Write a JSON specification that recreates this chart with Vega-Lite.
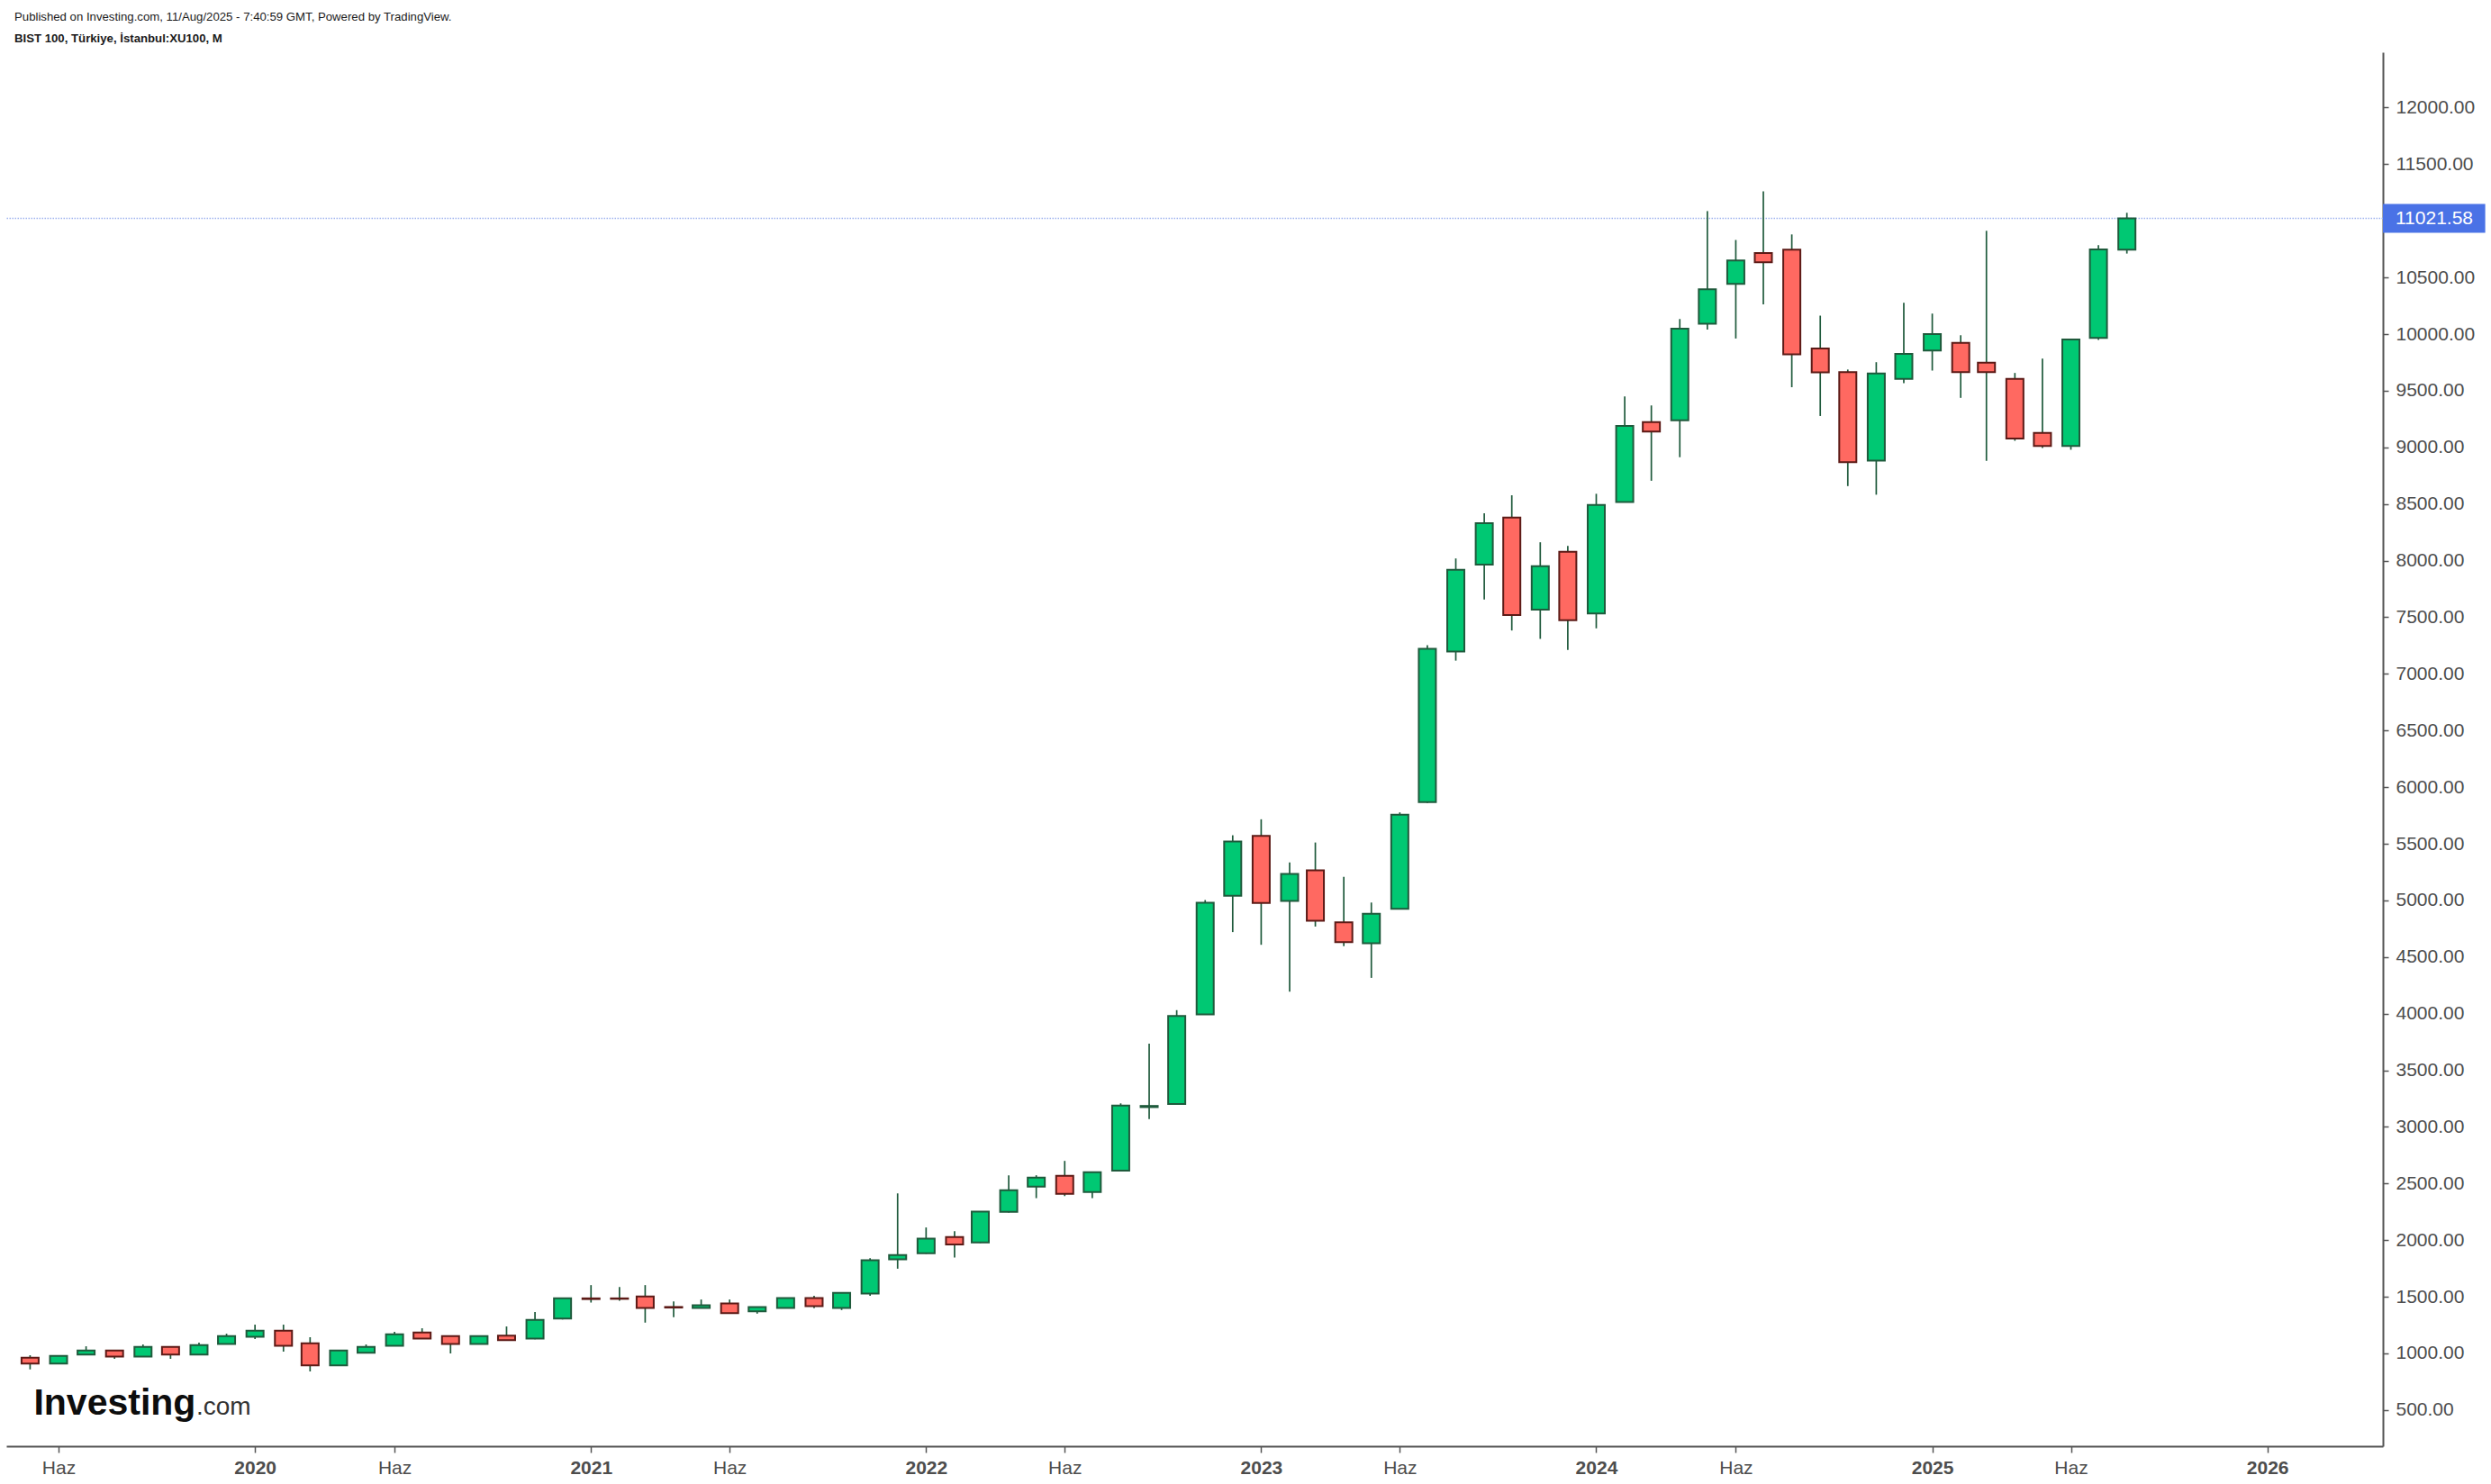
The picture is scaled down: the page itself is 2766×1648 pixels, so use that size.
{
  "$schema": "https://vega.github.io/schema/vega-lite/v6.json",
  "width": 2639,
  "height": 1548,
  "autosize": "none",
  "padding": {"left": 7, "top": 58, "right": 120, "bottom": 42},
  "background": "white",
  "config": {"view": {"stroke": null}},
  "title": {
    "text": "Published on Investing.com, 11/Aug/2025 - 7:40:59 GMT, Powered by TradingView.",
    "subtitle": "BIST 100, Türkiye, İstanbul:XU100, M",
    "anchor": "start",
    "frame": "group",
    "orient": "top",
    "offset": 8,
    "dx": 9,
    "font": "Liberation Sans",
    "fontSize": 13.2,
    "fontWeight": "normal",
    "color": "#1a1a1a",
    "subtitleFont": "Liberation Sans",
    "subtitleFontSize": 13.2,
    "subtitleFontWeight": "bold",
    "subtitleColor": "#1a1a1a",
    "subtitlePadding": 11
  },
  "datasets": {
    "candles": [
      {"date": "2019-05-01", "open": 963, "high": 984, "low": 859, "close": 910},
      {"date": "2019-06-01", "open": 910, "high": 980, "low": 905, "close": 978},
      {"date": "2019-07-01", "open": 989, "high": 1063, "low": 985, "close": 1026},
      {"date": "2019-08-01", "open": 1026, "high": 1030, "low": 952, "close": 973},
      {"date": "2019-09-01", "open": 973, "high": 1079, "low": 970, "close": 1058},
      {"date": "2019-10-01", "open": 1058, "high": 1060, "low": 952, "close": 989},
      {"date": "2019-11-01", "open": 989, "high": 1095, "low": 985, "close": 1074},
      {"date": "2019-12-01", "open": 1084, "high": 1174, "low": 1080, "close": 1153},
      {"date": "2020-01-01", "open": 1148, "high": 1254, "low": 1127, "close": 1201},
      {"date": "2020-02-01", "open": 1201, "high": 1254, "low": 1016, "close": 1068},
      {"date": "2020-03-01", "open": 1090, "high": 1143, "low": 841, "close": 894},
      {"date": "2020-04-01", "open": 894, "high": 1028, "low": 890, "close": 1026},
      {"date": "2020-05-01", "open": 1005, "high": 1079, "low": 1002, "close": 1058},
      {"date": "2020-06-01", "open": 1068, "high": 1190, "low": 1065, "close": 1169},
      {"date": "2020-07-01", "open": 1185, "high": 1222, "low": 1130, "close": 1132},
      {"date": "2020-08-01", "open": 1153, "high": 1155, "low": 1000, "close": 1084},
      {"date": "2020-09-01", "open": 1084, "high": 1155, "low": 1080, "close": 1153},
      {"date": "2020-10-01", "open": 1156, "high": 1238, "low": 1112, "close": 1117},
      {"date": "2020-11-01", "open": 1131, "high": 1365, "low": 1125, "close": 1296},
      {"date": "2020-12-01", "open": 1309, "high": 1490, "low": 1300, "close": 1486},
      {"date": "2021-01-01", "open": 1486, "high": 1603, "low": 1449, "close": 1480},
      {"date": "2021-02-01", "open": 1486, "high": 1587, "low": 1465, "close": 1482},
      {"date": "2021-03-01", "open": 1502, "high": 1603, "low": 1272, "close": 1402},
      {"date": "2021-04-01", "open": 1410, "high": 1460, "low": 1320, "close": 1405},
      {"date": "2021-05-01", "open": 1402, "high": 1476, "low": 1400, "close": 1425},
      {"date": "2021-06-01", "open": 1441, "high": 1476, "low": 1354, "close": 1356},
      {"date": "2021-07-01", "open": 1372, "high": 1410, "low": 1351, "close": 1410},
      {"date": "2021-08-01", "open": 1402, "high": 1489, "low": 1400, "close": 1489},
      {"date": "2021-09-01", "open": 1489, "high": 1508, "low": 1399, "close": 1418},
      {"date": "2021-10-01", "open": 1402, "high": 1537, "low": 1383, "close": 1535},
      {"date": "2021-11-01", "open": 1529, "high": 1841, "low": 1508, "close": 1823},
      {"date": "2021-12-01", "open": 1831, "high": 2413, "low": 1748, "close": 1868},
      {"date": "2022-01-01", "open": 1884, "high": 2112, "low": 1880, "close": 2014},
      {"date": "2022-02-01", "open": 2028, "high": 2080, "low": 1846, "close": 1962},
      {"date": "2022-03-01", "open": 1979, "high": 2255, "low": 1975, "close": 2253},
      {"date": "2022-04-01", "open": 2250, "high": 2573, "low": 2245, "close": 2441},
      {"date": "2022-05-01", "open": 2473, "high": 2573, "low": 2371, "close": 2553},
      {"date": "2022-06-01", "open": 2568, "high": 2700, "low": 2389, "close": 2409},
      {"date": "2022-07-01", "open": 2426, "high": 2602, "low": 2371, "close": 2600},
      {"date": "2022-08-01", "open": 2614, "high": 3208, "low": 2610, "close": 3188},
      {"date": "2022-09-01", "open": 3175, "high": 3734, "low": 3070, "close": 3185},
      {"date": "2022-10-01", "open": 3203, "high": 4031, "low": 3200, "close": 3979},
      {"date": "2022-11-01", "open": 3993, "high": 5003, "low": 3990, "close": 4980},
      {"date": "2022-12-01", "open": 5041, "high": 5575, "low": 4720, "close": 5520},
      {"date": "2023-01-01", "open": 5569, "high": 5716, "low": 4608, "close": 4977},
      {"date": "2023-02-01", "open": 4995, "high": 5335, "low": 4195, "close": 5234},
      {"date": "2023-03-01", "open": 5266, "high": 5511, "low": 4769, "close": 4821},
      {"date": "2023-04-01", "open": 4807, "high": 5208, "low": 4596, "close": 4631},
      {"date": "2023-05-01", "open": 4621, "high": 4981, "low": 4316, "close": 4881},
      {"date": "2023-06-01", "open": 4926, "high": 5777, "low": 4920, "close": 5757},
      {"date": "2023-07-01", "open": 5868, "high": 7253, "low": 5860, "close": 7221},
      {"date": "2023-08-01", "open": 7198, "high": 8019, "low": 7117, "close": 7919},
      {"date": "2023-09-01", "open": 7964, "high": 8418, "low": 7656, "close": 8331},
      {"date": "2023-10-01", "open": 8380, "high": 8577, "low": 7383, "close": 7519},
      {"date": "2023-11-01", "open": 7568, "high": 8162, "low": 7309, "close": 7951},
      {"date": "2023-12-01", "open": 8078, "high": 8130, "low": 7211, "close": 7474},
      {"date": "2024-01-01", "open": 7533, "high": 8590, "low": 7402, "close": 8491},
      {"date": "2024-02-01", "open": 8518, "high": 9449, "low": 8515, "close": 9189},
      {"date": "2024-03-01", "open": 9222, "high": 9370, "low": 8705, "close": 9140},
      {"date": "2024-04-01", "open": 9238, "high": 10133, "low": 8913, "close": 10048},
      {"date": "2024-05-01", "open": 10092, "high": 11086, "low": 10040, "close": 10396},
      {"date": "2024-06-01", "open": 10443, "high": 10831, "low": 9961, "close": 10651},
      {"date": "2024-07-01", "open": 10716, "high": 11261, "low": 10262, "close": 10634},
      {"date": "2024-08-01", "open": 10746, "high": 10880, "low": 9531, "close": 9821},
      {"date": "2024-09-01", "open": 9873, "high": 10163, "low": 9277, "close": 9663},
      {"date": "2024-10-01", "open": 9665, "high": 9687, "low": 8658, "close": 8869},
      {"date": "2024-11-01", "open": 8884, "high": 9752, "low": 8582, "close": 9652},
      {"date": "2024-12-01", "open": 9604, "high": 10277, "low": 9567, "close": 9826},
      {"date": "2025-01-01", "open": 9855, "high": 10181, "low": 9678, "close": 10001},
      {"date": "2025-02-01", "open": 9922, "high": 9990, "low": 9437, "close": 9665},
      {"date": "2025-03-01", "open": 9747, "high": 10912, "low": 8881, "close": 9665},
      {"date": "2025-04-01", "open": 9604, "high": 9657, "low": 9058, "close": 9077},
      {"date": "2025-05-01", "open": 9127, "high": 9784, "low": 8995, "close": 9013},
      {"date": "2025-06-01", "open": 9013, "high": 9960, "low": 8979, "close": 9953},
      {"date": "2025-07-01", "open": 9967, "high": 10785, "low": 9948, "close": 10748},
      {"date": "2025-08-01", "open": 10745, "high": 11071, "low": 10711, "close": 11021.58}
    ],
    "last": [{"price": 11021.58}]
  },
  "encoding": {
    "x": {
      "field": "date",
      "type": "temporal",
      "scale": {
        "type": "utc",
        "domain": [
          {"year": 2019, "month": 4, "date": 10, "utc": true},
          {"year": 2026, "month": 5, "date": 2, "utc": true}
        ]
      },
      "axis": {
        "orient": "bottom",
        "title": null,
        "grid": false,
        "values": [
          {"year": 2019, "month": 6, "date": 1, "utc": true},
          {"year": 2020, "month": 1, "date": 1, "utc": true},
          {"year": 2020, "month": 6, "date": 1, "utc": true},
          {"year": 2021, "month": 1, "date": 1, "utc": true},
          {"year": 2021, "month": 6, "date": 1, "utc": true},
          {"year": 2022, "month": 1, "date": 1, "utc": true},
          {"year": 2022, "month": 6, "date": 1, "utc": true},
          {"year": 2023, "month": 1, "date": 1, "utc": true},
          {"year": 2023, "month": 6, "date": 1, "utc": true},
          {"year": 2024, "month": 1, "date": 1, "utc": true},
          {"year": 2024, "month": 6, "date": 1, "utc": true},
          {"year": 2025, "month": 1, "date": 1, "utc": true},
          {"year": 2025, "month": 6, "date": 1, "utc": true},
          {"year": 2026, "month": 1, "date": 1, "utc": true}
        ],
        "labelExpr": "utcmonth(datum.value) == 0 ? utcFormat(datum.value, '%Y') : 'Haz'",
        "labelFontWeight": {"condition": {"test": "utcmonth(datum.value) == 0", "value": "bold"}, "value": "normal"},
        "labelFont": "Liberation Sans",
        "labelFontSize": 21,
        "labelColor": "#4d4d4d",
        "labelPadding": 6,
        "labelFlush": false,
        "labelOverlap": false,
        "domainColor": "#555555",
        "domainWidth": 2,
        "tickColor": "#555555",
        "tickWidth": 1.5,
        "tickSize": 7,
        "zindex": 0
      }
    }
  },
  "layer": [
    {
      "data": {"name": "last"},
      "mark": {"type": "rule", "color": "#9fb3ee", "strokeWidth": 1.5, "strokeDash": [1.5, 1.5]},
      "encoding": {"x": null, "y": {"field": "price", "type": "quantitative"}}
    },
    {
      "data": {"name": "candles"},
      "mark": {"type": "rule", "color": "#1f5a3c", "strokeWidth": 1.7},
      "encoding": {
        "y": {
          "field": "low",
          "type": "quantitative",
          "scale": {"domain": [181, 12488.7], "nice": false, "zero": false},
          "axis": {
            "orient": "right",
            "title": null,
            "grid": false,
            "values": [500, 1000, 1500, 2000, 2500, 3000, 3500, 4000, 4500, 5000, 5500, 6000, 6500, 7000, 7500, 8000, 8500, 9000, 9500, 10000, 10500, 11000, 11500, 12000],
            "format": ".2f",
            "labelFont": "Liberation Sans",
            "labelFontSize": 21,
            "labelColor": "#4d4d4d",
            "labelPadding": 8,
            "labelOverlap": false,
            "labelFlush": false,
            "domainColor": "#555555",
            "domainWidth": 2,
            "tickColor": "#555555",
            "tickWidth": 1.5,
            "tickSize": 6,
            "zindex": 0
          }
        },
        "y2": {"field": "high"}
      }
    },
    {
      "data": {"name": "candles"},
      "mark": {"type": "bar", "size": 19, "strokeWidth": 2, "orient": "vertical"},
      "encoding": {
        "y": {"field": "open", "type": "quantitative"},
        "y2": {"field": "close"},
        "fill": {"condition": {"test": "datum.close >= datum.open", "value": "#00c873"}, "value": "#ff6961"},
        "stroke": {"condition": {"test": "datum.close >= datum.open", "value": "#1f5a3c"}, "value": "#5c1a16"}
      }
    },
    {
      "data": {"name": "last"},
      "mark": {"type": "point", "shape": "M0,-1H7.1V1H0Z", "filled": true, "size": 1024, "opacity": 1, "strokeWidth": 0, "color": "#4a72e6"},
      "encoding": {"x": {"value": "width"}, "y": {"field": "price", "type": "quantitative"}}
    },
    {
      "data": {"name": "last"},
      "mark": {"type": "text", "align": "left", "baseline": "middle", "dx": 14, "font": "Liberation Sans", "fontSize": 21, "color": "#ffffff"},
      "encoding": {
        "x": {"value": "width"},
        "y": {"field": "price", "type": "quantitative"},
        "text": {"field": "price", "type": "quantitative", "format": ".2f"}
      }
    },
    {
      "data": {"name": "candles"},
      "transform": [{"filter": "utcyear(datum.date) == 2019 && utcmonth(datum.date) == 4"}],
      "mark": {"type": "text", "align": "left", "baseline": "alphabetic", "dx": 4, "font": "Liberation Sans", "fontSize": 41, "fontWeight": "bold", "color": "#0d0d0d"},
      "encoding": {
        "y": {"datum": 461, "type": "quantitative"},
        "text": {"value": "Investing"}
      }
    },
    {
      "data": {"name": "candles"},
      "transform": [{"filter": "utcyear(datum.date) == 2019 && utcmonth(datum.date) == 10"}],
      "mark": {"type": "text", "align": "left", "baseline": "alphabetic", "dx": -3, "font": "Liberation Sans", "fontSize": 28, "fontWeight": "normal", "color": "#333333"},
      "encoding": {
        "y": {"datum": 461, "type": "quantitative"},
        "text": {"value": ".com"}
      }
    }
  ]
}
